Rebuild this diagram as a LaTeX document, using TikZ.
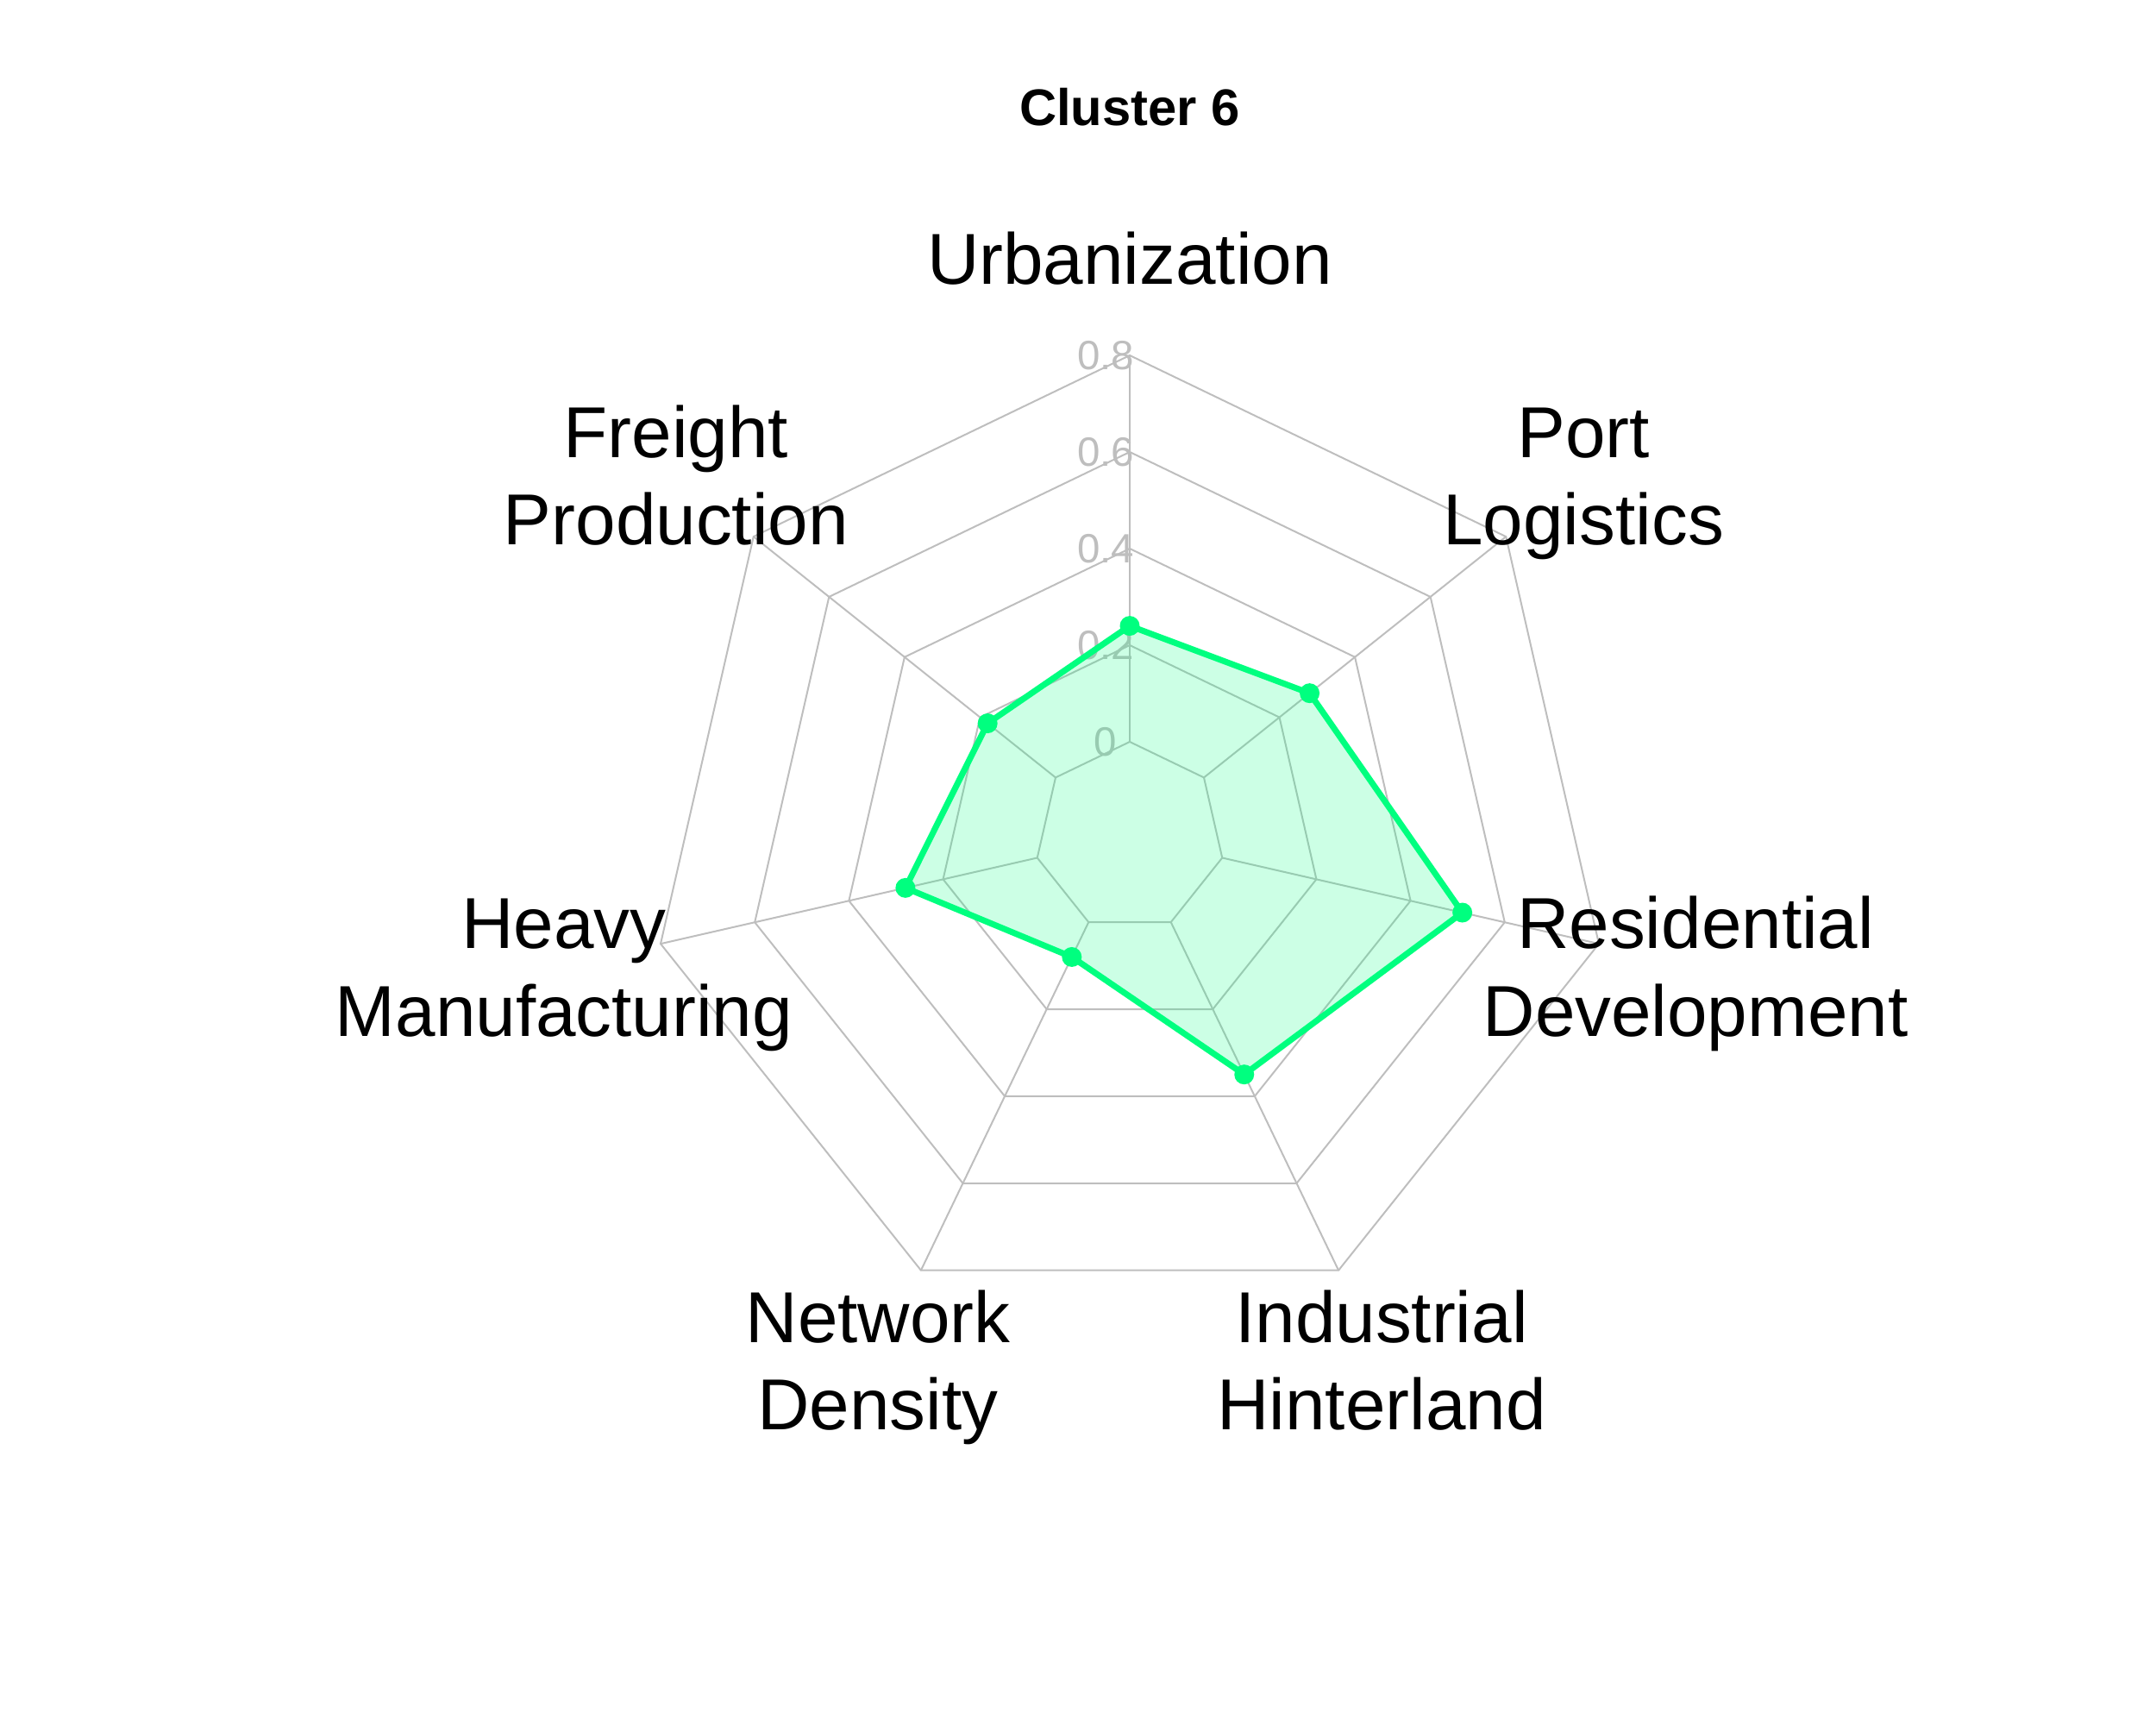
\documentclass[tikz,border=0pt]{standalone}
\usepackage{fontspec}
\setmainfont{Liberation Sans}

\definecolor{gridgray}{RGB}{190,190,190}
\definecolor{clustergreen}{RGB}{0,255,127}

% two-line axis name with the same height and depth for every label
\newcommand{\twoline}[2]{\rule{0pt}{23.5pt}#1\\#2\rule[-6pt]{0pt}{6pt}}

\begin{document}
\begin{tikzpicture}[
    grid/.style={draw=gridgray, line width=0.57pt},
    ticklabel/.style={text=gridgray, font=\fontsize{13.5}{16}\selectfont, inner sep=0pt},
    axislabel/.style={align=center, font=\fontsize{23.8}{28.9}\selectfont},
    datapoint/.style={circle, fill=clustergreen, inner sep=0pt, minimum size=0.23cm}
  ]
  \useasboundingbox (-13.10,-10.30) rectangle (11.90,9.70);
  % rings and spokes
  \foreach \v in {0,0.2,0.4,0.6,0.8}
    \draw[grid] (90:{1.1+5.6*\v}) \foreach \k in {1,...,6}{ -- ({90-\k*360/7}:{1.1+5.6*\v}) } -- cycle;
  \foreach \k in {0,...,6}
    \draw[grid] ({90-\k*360/7}:1.1) -- ({90-\k*360/7}:5.58);
  \foreach \v/\t [count=\n from 0] in {0/0,0.2/0.2,0.4/0.4,0.6/0.6,0.8/0.8}
    \node[ticklabel] (tick\n) at (-0.28,{1.1+5.6*\v}) {\t};
  % cluster values
  \foreach \k/\v in {0/0.24,1/0.28,2/0.51,3/0.35,4/0.08,5/0.28,6/0.18}
    \coordinate (p\k) at ({90-\k*360/7}:{1.1+5.6*\v});
  \draw[clustergreen, line width=2pt, line join=round, fill=clustergreen, fill opacity=0.2]
    (p0) -- (p1) -- (p2) -- (p3) -- (p4) -- (p5) -- (p6) -- cycle;
  \foreach \k in {0,...,6}
    \node[datapoint] (dot\k) at (p\k) {};
  % axis names
  \node[axislabel] (urban) at (90:6.70) {Urbanization};
  \node[axislabel] (port) at ({90-360/7}:6.73) {\twoline{Port}{Logistics}};
  \node[axislabel] (resid) at ({90-2*360/7}:6.73) {\twoline{Residential}{Development}};
  \node[axislabel] (indus) at ({90-3*360/7}:6.73) {\twoline{Industrial}{Hinterland}};
  \node[axislabel] (netw) at ({90-4*360/7}:6.73) {\twoline{Network}{Density}};
  \node[axislabel] (heavy) at ({90-5*360/7}:6.73) {\twoline{Heavy}{Manufacturing}};
  \node[axislabel] (freight) at ({90-6*360/7}:6.73) {\twoline{Freight}{Production}};
  \node[font=\bfseries\fontsize{17}{20}\selectfont, anchor=base] (title) at (0,8.24) {Cluster 6};
\end{tikzpicture}
\end{document}
